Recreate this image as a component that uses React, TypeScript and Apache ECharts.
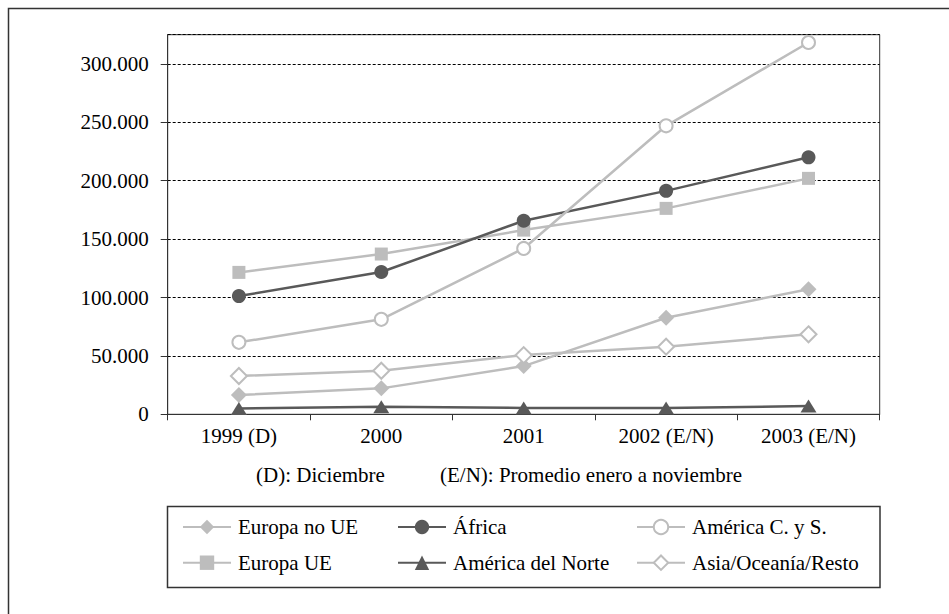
import React, { useEffect, useRef } from "react";
import * as echarts from "echarts";

const years = ["1999 (D)", "2000", "2001", "2002 (E/N)", "2003 (E/N)"];
const europaNoUE = [16500, 22200, 41300, 82700, 107000];
const europaUE = [121500, 137200, 157700, 176300, 202000];
const africa = [101200, 121800, 165700, 191300, 220000];
const americaNorte = [5000, 6500, 5500, 5500, 7000];
const americaCS = [61600, 81300, 142000, 247000, 318300];
const asiaResto = [32800, 37300, 50700, 57900, 68500];
const yMax = 325000;
const yStep = 50000;
const noteLeft = "(D): Diciembre";
const noteRight = "(E/N): Promedio enero a noviembre";

const FONT = "Times New Roman, Liberation Serif, serif";
const LIGHT = "#bdbdbd";
const DARK = "#595959";

const thousands = (v: number) =>
  String(Math.round(v)).replace(/\B(?=(\d{3})+(?!\d))/g, ".");

function makeSeries(
  name: string,
  data: number[],
  color: string,
  symbol: string,
  symbolSize: number | number[],
  empty = false
) {
  return {
    name,
    type: "line",
    data,
    symbol,
    symbolSize,
    showAllSymbol: true,
    lineStyle: { color, width: 2.5 },
    itemStyle: empty
      ? { color, borderColor: color, borderWidth: 2.5 }
      : { color, borderColor: color, borderWidth: 0 },
    emphasis: { disabled: true },
  };
}

export default function App() {
  const ref = useRef<HTMLDivElement>(null);

  useEffect(() => {
    if (!ref.current) return;
    const chart = echarts.init(ref.current, undefined, { renderer: "svg" });

    const legendBase = {
      orient: "vertical",
      top: 516,
      padding: 0,
      itemWidth: 48,
      itemHeight: 18,
      itemGap: 13.7,
      selectedMode: false,
      textStyle: {
        fontFamily: FONT,
        fontSize: 21,
        color: "#000",
        lineHeight: 22,
        padding: [0, 0, 0, 2],
      },
    };

    chart.setOption({
      animation: false,
      backgroundColor: "#fff",
      textStyle: { fontFamily: FONT },
      grid: {
        left: 167.7,
        right: 69.3,
        top: 34.7,
        bottom: 199.7,
        show: true,
        borderColor: "#333",
        borderWidth: 1,
        backgroundColor: "transparent",
      },
      xAxis: {
        type: "category",
        data: years,
        boundaryGap: true,
        axisLine: { lineStyle: { color: "#333", width: 1 } },
        axisTick: { show: true, length: 6, lineStyle: { color: "#333" } },
        axisLabel: {
          fontFamily: FONT,
          fontSize: 21,
          color: "#000",
          margin: 11,
        },
      },
      yAxis: {
        type: "value",
        min: 0,
        max: yMax,
        interval: yStep,
        axisLine: { show: true, lineStyle: { color: "#333", width: 1 } },
        axisTick: { show: true, length: 7, lineStyle: { color: "#333" } },
        axisLabel: {
          fontFamily: FONT,
          fontSize: 21,
          color: "#000",
          margin: 19,
          showMaxLabel: false,
          formatter: (v: number) => (v > 300000 ? "" : thousands(v)),
        },
        splitLine: {
          show: true,
          lineStyle: { color: "#000", width: 1, type: [3, 2] },
        },
      },
      legend: [
        { ...legendBase, left: 182, data: ["Europa no UE", "Europa UE"] },
        { ...legendBase, left: 397, data: ["África", "América del Norte"] },
        {
          ...legendBase,
          left: 636,
          data: ["América C. y S.", "Asia/Oceanía/Resto"],
        },
      ],
      graphic: [
        {
          type: "rect",
          shape: { x: 8.5, y: 8.5, width: 1000, height: 1000 },
          style: { fill: "none", stroke: "#333", lineWidth: 1.5 },
          silent: true,
        },
        {
          type: "rect",
          shape: { x: 167.5, y: 506.5, width: 712.5, height: 81 },
          style: { fill: "none", stroke: "#333", lineWidth: 1.5 },
          silent: true,
        },
        {
          type: "text",
          x: 256,
          y: 475,
          style: {
            text: noteLeft,
            fontFamily: FONT,
            fontSize: 21,
            fill: "#000",
            verticalAlign: "middle",
          },
          silent: true,
        },
        {
          type: "text",
          x: 440,
          y: 475,
          style: {
            text: noteRight,
            fontFamily: FONT,
            fontSize: 21,
            fill: "#000",
            verticalAlign: "middle",
          },
          silent: true,
        },
      ],
      series: [
        makeSeries("Europa no UE", europaNoUE, LIGHT, "diamond", 16),
        makeSeries("Europa UE", europaUE, LIGHT, "rect", 13),
        makeSeries("África", africa, DARK, "circle", 14),
        makeSeries("América del Norte", americaNorte, DARK, "triangle", [16, 13]),
        makeSeries("América C. y S.", americaCS, LIGHT, "emptyCircle", 13, true),
        makeSeries("Asia/Oceanía/Resto", asiaResto, LIGHT, "emptyDiamond", 16, true),
      ],
    });

    return () => chart.dispose();
  }, []);

  return (
    <div
      ref={ref}
      style={{
        position: "fixed",
        left: 0,
        top: 0,
        width: 949,
        height: 614,
        background: "#fff",
      }}
    />
  );
}
